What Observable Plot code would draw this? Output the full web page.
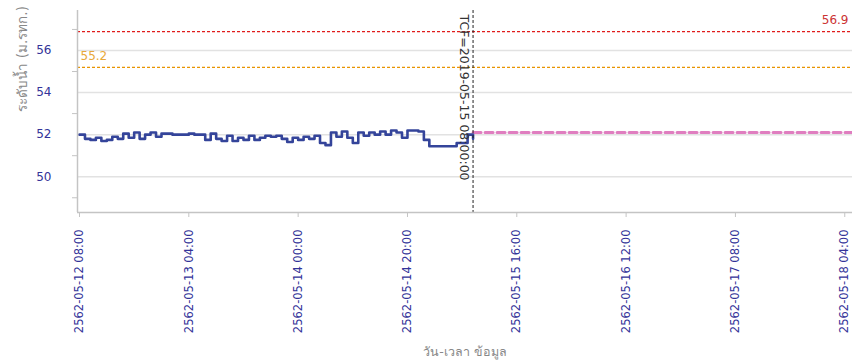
<!DOCTYPE html>
<html>
<head>
<meta charset="utf-8">
<script src="https://cdn.jsdelivr.net/npm/d3@7"></script>
<script src="https://cdn.jsdelivr.net/npm/@observablehq/plot@0.6"></script>
<style>
  html, body { margin: 0; padding: 0; background: #fff; }
  #chart { width: 852px; height: 362px; }
</style>
</head>
<body>
<div id="chart"></div>
<script>
// ---- data ----
const startTime = "2019-05-12T08:00:00Z";   // first observation (hourly)
const waterLevel = [
  52.0, 51.8, 51.75, 51.85, 51.7, 51.75, 51.9, 51.8, 52.05, 51.85,
  52.1, 51.8, 52.0, 52.1, 51.9, 52.05, 52.05, 52.0, 52.0, 52.0,
  52.05, 52.0, 52.0, 51.75, 52.05, 51.8, 51.7, 51.95, 51.7, 51.85,
  51.75, 51.95, 51.75, 51.85, 51.95, 51.9, 51.95, 51.8, 51.65, 51.85,
  51.75, 51.9, 51.8, 51.95, 51.6, 51.5, 52.1, 51.9, 52.15, 51.85,
  51.6, 52.1, 51.95, 52.1, 52.0, 52.15, 52.0, 52.2, 52.1, 51.85,
  52.2, 52.2, 52.15, 51.75, 51.45, 51.45, 51.45, 51.45, 51.45, 51.6,
  51.6, 52.0, 51.8
];
const tcfTime = "2019-05-15T08:00:00Z";
const tcfLabel = "TCF=2019-05-15 08:00:00";
const forecastLevel = 52.1;
const forecastEnd = "2019-05-18T05:25:00Z";
const redLevel = 56.9;
const orangeLevel = 55.2;
const xTicks = [
  "2019-05-12T08:00:00Z", "2019-05-13T04:00:00Z", "2019-05-14T00:00:00Z",
  "2019-05-14T20:00:00Z", "2019-05-15T16:00:00Z", "2019-05-16T12:00:00Z",
  "2019-05-17T08:00:00Z", "2019-05-18T04:00:00Z"
];
const yLabelTicks = [50, 52, 54, 56];
const yMinorTicks = [49, 51, 53, 55, 57];
const yTitle = "ระดับน้ำ (ม.รทก.)";
const xTitle = "วัน-เวลา ข้อมูล";

// ---- build ----
const t0 = new Date(startTime);
const series = waterLevel.map((v, i) => ({ t: new Date(+t0 + i * 3600e3), v }));
const tcf = new Date(tcfTime);
const forecast = [{ t: tcf, v: forecastLevel }, { t: new Date(forecastEnd), v: forecastLevel }];
const tickDates = xTicks.map(d => new Date(d));
const xDomain = [new Date(+t0 - 22 * 60e3), new Date(forecastEnd)];
const fmt = d3.utcFormat("-%m-%d %H:%M");
const font = "DejaVu Sans, Tahoma, Verdana, sans-serif";

const plot = Plot.plot({
  width: 852,
  height: 362,
  marginLeft: 77,
  marginRight: 0,
  marginTop: 10,
  marginBottom: 150,
  style: { fontFamily: font, background: "#fff" },
  x: { type: "utc", domain: xDomain },
  y: { domain: [48.3, 57.9] },
  marks: [
    Plot.ruleY(yLabelTicks, { stroke: "#e2e2e2", strokeWidth: 1.5 }),
    Plot.ruleY([redLevel], { stroke: "#e01c1c", strokeWidth: 1.2, strokeDasharray: "3,2" }),
    Plot.ruleY([orangeLevel], { stroke: "#e89400", strokeWidth: 1.2, strokeDasharray: "3,2" }),
    Plot.text([redLevel], { y: d => d, text: d => String(d), frameAnchor: "right", textAnchor: "end", dx: -4, dy: -11, fill: "#cc3333", fontSize: 12 }),
    Plot.text([orangeLevel], { y: d => d, text: d => String(d), frameAnchor: "left", textAnchor: "start", dx: 3, dy: -11, fill: "#e8a83a", fontSize: 12 }),
    Plot.line(forecast, { x: "t", y: "v", stroke: "#e07ec0", strokeWidth: 3, strokeDasharray: "8,4" }),
    Plot.line(series, { x: "t", y: "v", curve: "step-after", stroke: "#34449a", strokeWidth: 2.6 }),
    Plot.ruleX([tcf], { stroke: "#222", strokeWidth: 1, strokeDasharray: "3,2" }),
    Plot.text([tcfLabel], { x: () => tcf, text: d => d, frameAnchor: "top", rotate: 90, textAnchor: "start", lineAnchor: "middle", dx: -9, dy: 4, fill: "#333", fontSize: 12.5 }),
    Plot.ruleX([xDomain[0]], { stroke: "#c4c4c4", strokeWidth: 1.5 }),
    Plot.ruleY([48.3], { stroke: "#c4c4c4", strokeWidth: 1.5 }),
    Plot.axisY(yLabelTicks, { tickSize: 0, tickPadding: 22, dx: -4, fill: "#333399", fontSize: 12, label: null }),
    Plot.axisY(yMinorTicks, { tickSize: 5, stroke: "#c4c4c4", tickFormat: () => "", label: null }),
    Plot.axisX(tickDates, { tickSize: 5, stroke: "#c4c4c4", tickRotate: -90, tickPadding: 12, fill: "#333399", fontSize: 11.5, tickFormat: d => (d.getUTCFullYear() + 543) + fmt(d), label: null }),
    Plot.text([yTitle], { text: d => d, frameAnchor: "left", rotate: -90, dx: -55, fill: "#888", fontSize: 13.5 }),
    Plot.text([xTitle], { text: d => d, frameAnchor: "bottom", dy: 143, fill: "#888", fontSize: 12.5 })
  ]
});
document.getElementById("chart").appendChild(plot);
</script>
</body>
</html>
